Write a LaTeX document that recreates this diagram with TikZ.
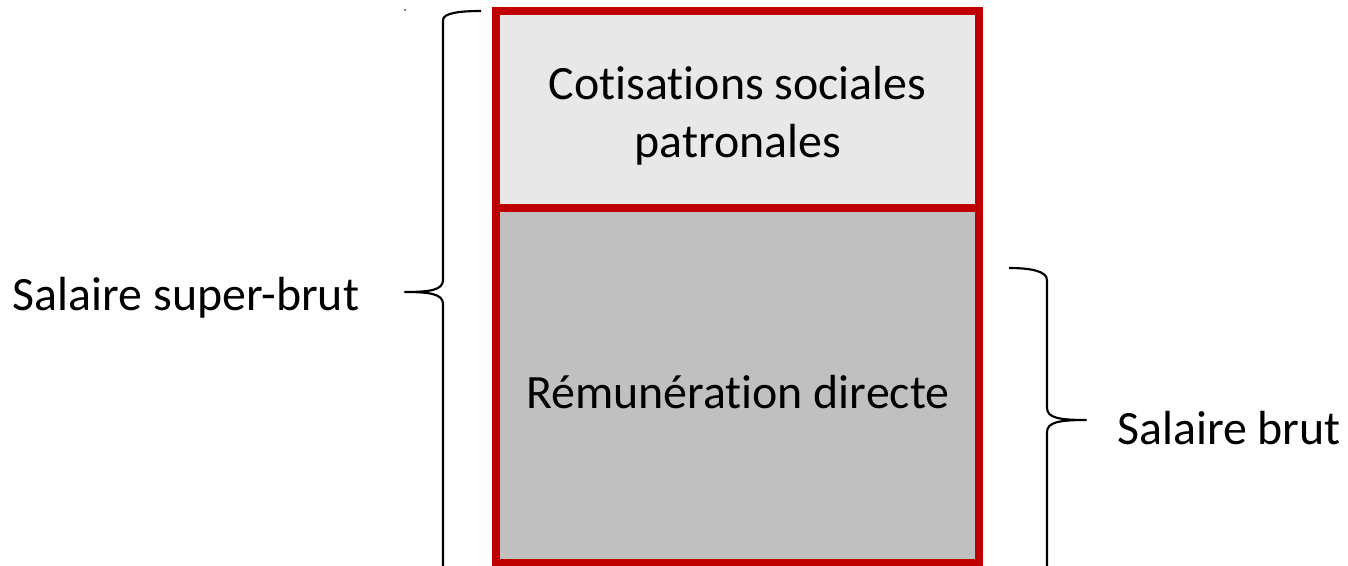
\documentclass[tikz,border=0pt]{standalone}
\usepackage{fontspec}
\setmainfont[Ligatures=NoCommon]{Carlito}
\definecolor{boxred}{HTML}{C00000}
\definecolor{lightfill}{HTML}{E8E8E8}
\definecolor{darkfill}{HTML}{C0C0C0}
\tikzset{
  part/.style={draw=boxred, line width=6pt, rectangle, inner sep=0pt, outer sep=0pt,
    minimum width=362.6pt},
  lbl/.style={inner sep=0pt, align=center, font=\fontsize{35.9}{43.5}\selectfont},
  bracepen/.style={draw=black, line width=1.6pt, line join=round}
}
\begin{document}
\begin{tikzpicture}[x=0.75pt,y=-0.75pt]
\useasboundingbox (0,0) rectangle (1348,565);
\node[part, fill=darkfill, minimum height=266.6pt] (rem) at (737.75,385.25) {};
\node[part, fill=lightfill, minimum height=147.4pt] (cot) at (737.75,109.25) {};
\node[lbl] (cottxt) at (737.75,116) {Cotisations sociales\\patronales};
\node[lbl] (remtxt) at (737.75,392.5) {R\'emun\'eration directe};
\node[lbl] (sb) at (186,297.5) {Salaire super-brut};
\node[lbl] (br) at (1229,428.5) {Salaire brut};
% left brace
\coordinate (lt) at (481,11);
\coordinate (ltip) at (405,292);
\draw[bracepen] (lt) .. controls (460,11) and (443,13) .. (443,20)
  -- (443,280) .. controls (443,290) and (430,292) .. (ltip)
  .. controls (430,292) and (443,294) .. (443,304) -- (443,575);
% right brace
\coordinate (rt) at (1009,268);
\coordinate (rtip) at (1086,420);
\draw[bracepen] (rt) .. controls (1030,268) and (1047,271) .. (1047,280)
  -- (1047,408) .. controls (1047,418) and (1060,420) .. (rtip)
  .. controls (1060,420) and (1047,422) .. (1047,432) -- (1047,575);
\fill (405,10) circle (0.8);
\end{tikzpicture}
\end{document}
